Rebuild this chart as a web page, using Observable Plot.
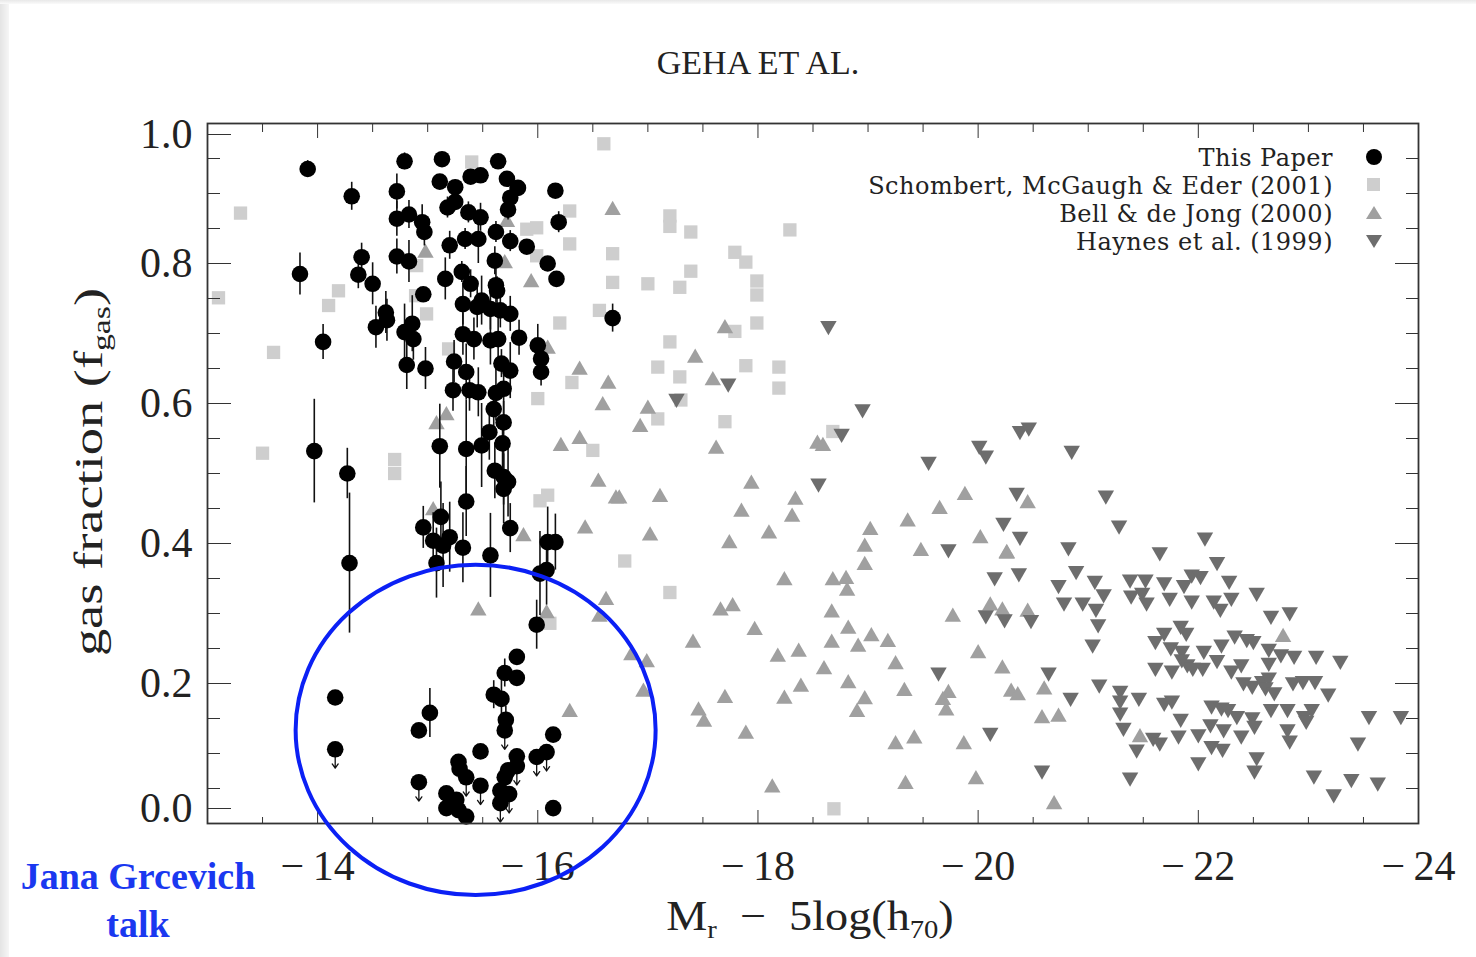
<!DOCTYPE html>
<html><head><meta charset="utf-8">
<script src="https://cdn.jsdelivr.net/npm/d3@7"></script>
<script src="https://cdn.jsdelivr.net/npm/@observablehq/plot@0.6"></script>
<style>
html,body{margin:0;padding:0;background:#fff;}
body{width:1476px;height:957px;overflow:hidden;position:relative;font-family:"Liberation Serif",serif;color:#222;}
#chart{position:absolute;left:0;top:0;}
.abs{position:absolute;white-space:nowrap;line-height:1;}
#edgeL{position:absolute;left:0;top:0;width:9px;height:957px;background:linear-gradient(to right,#e4e4e4,#f6f6f6);}
#edgeT{position:absolute;left:0;top:0;width:1476px;height:4px;background:linear-gradient(to bottom,#e8e8e8,#fafafa);}
#title{left:758px;top:46px;transform:translateX(-50%);font-size:34px;}
#ylab{left:92px;top:472px;transform:translate(-50%,-50%) rotate(-90deg) scale(1.36,1);font-size:40px;}
#xlab{left:810px;top:895px;transform:translateX(-50%) scale(1.1,1);font-size:42px;}
sub{font-size:62%;vertical-align:-0.3em;}
#legend{right:143px;top:144px;font-family:"DejaVu Serif",serif;font-size:24px;letter-spacing:0.5px;text-align:right;line-height:28px;color:#222;}
#note{left:138px;top:852px;transform:translateX(-50%);font-family:"Liberation Serif",serif;font-weight:bold;font-size:38px;color:#1a38f0;text-align:center;line-height:48px;}
</style></head><body>
<div id="chart"></div>
<div id="edgeL"></div><div id="edgeT"></div>
<div class="abs" id="title">GEHA ET AL.</div>
<div class="abs" id="ylab">gas fraction (f<sub>gas</sub>)</div>
<div class="abs" id="xlab">M<sub>r</sub> &nbsp;&minus;&nbsp; 5log(h<sub>70</sub>)</div>
<div class="abs" id="legend"></div>
<div class="abs" id="note">Jana Grcevich<br>talk</div>
<script>
// ---- Data: [absolute magnitude M_r - 5log h70, gas fraction, error] ----
const thisPaper = [
[-13.91,0.935,0.012],[-14.79,0.946,0.012],[-15.13,0.949,0.01],[-15.64,0.946,0.01],[-14.31,0.896,0.02],
[-14.72,0.903,0.025],[-15.11,0.917,0.01],[-15.25,0.909,0.01],[-15.39,0.924,0.01],[-15.48,0.926,0.01],
[-15.72,0.921,0.01],[-15.82,0.908,0.01],[-15.75,0.894,0.015],[-15.73,0.877,0.015],[-16.16,0.904,0.01],
[-16.19,0.859,0.015],[-15.18,0.880,0.015],[-15.25,0.888,0.01],[-15.37,0.873,0.015],[-15.48,0.866,0.02],
[-14.72,0.864,0.025],[-14.83,0.870,0.02],[-14.95,0.859,0.025],[-14.97,0.845,0.02],[-15.62,0.845,0.015],
[-15.75,0.832,0.015],[-15.90,0.824,0.01],[-15.20,0.826,0.02],[-15.34,0.835,0.015],[-15.46,0.835,0.035],
[-15.61,0.804,0.02],[-16.09,0.800,0.01],[-16.17,0.778,0.01],[-14.40,0.809,0.02],[-14.37,0.784,0.02],
[-14.50,0.771,0.03],[-14.72,0.810,0.025],[-14.83,0.803,0.03],[-15.16,0.778,0.03],[-15.31,0.788,0.015],
[-15.39,0.771,0.02],[-15.62,0.769,0.03],[-15.63,0.761,0.02],[-13.84,0.785,0.03],[-14.96,0.756,0.01],
[-15.32,0.742,0.03],[-15.49,0.747,0.035],[-15.57,0.735,0.03],[-15.66,0.733,0.025],[-15.75,0.728,0.025],
[-15.45,0.738,0.03],[-16.68,0.722,0.02],[-14.62,0.730,0.03],[-14.53,0.709,0.03],[-14.63,0.719,0.03],
[-14.86,0.714,0.04],[-14.79,0.702,0.04],[-14.87,0.692,0.03],[-15.32,0.699,0.03],[-15.42,0.692,0.03],
[-15.57,0.690,0.035],[-15.64,0.692,0.03],[-15.83,0.694,0.025],[-16.00,0.683,0.03],[-16.03,0.664,0.02],
[-14.05,0.688,0.025],[-14.81,0.655,0.035],[-14.98,0.650,0.03],[-15.24,0.660,0.03],[-15.35,0.645,0.04],
[-15.67,0.657,0.02],[-15.75,0.647,0.04],[-16.03,0.645,0.02],[-15.23,0.619,0.03],[-15.38,0.619,0.03],
[-15.46,0.616,0.035],[-15.62,0.615,0.04],[-15.69,0.621,0.04],[-15.60,0.592,0.03],[-15.69,0.573,0.03],
[-15.56,0.559,0.04],[-15.49,0.540,0.06],[-15.68,0.543,0.04],[-15.11,0.539,0.06],[-15.35,0.535,0.07],
[-13.97,0.532,0.074],[-14.27,0.500,0.036],[-15.61,0.504,0.04],[-15.69,0.495,0.04],[-15.73,0.488,0.05],
[-15.69,0.478,0.05],[-15.35,0.460,0.05],[-15.12,0.438,0.05],[-14.96,0.423,0.03],[-15.75,0.422,0.035],
[-15.05,0.404,0.04],[-15.14,0.397,0.06],[-15.20,0.409,0.05],[-15.32,0.394,0.05],[-15.57,0.383,0.06],
[-16.09,0.402,0.05],[-16.16,0.402,0.04],[-14.29,0.372,0.1],[-15.08,0.372,0.05],[-16.02,0.357,0.06],
[-16.08,0.362,0.05],[-15.99,0.284,0.035],[-15.81,0.238,0.01],[-15.70,0.215,0.02],[-15.81,0.208,0.01],
[-15.60,0.184,0.02],[-15.67,0.178,0.03],[-14.16,0.180,0],[-15.02,0.158,0.035],[-14.92,0.133,0],
[-15.71,0.148,0.02],[-15.48,0.103,0],[-16.14,0.127,0.01],[-15.81,0.096,0.01],[-15.73,0.076,0],
[-15.70,0.066,0],[-15.28,0.088,0],[-15.29,0.078,0],[-15.66,0.047,0],[-15.17,0.043,0],
[-15.26,0.034,0],[-15.17,0.022,0],[-15.28,0.019,0],[-15.35,0.010,0],[-16.14,0.022,0]
];
// upper limits (drawn with downward arrows)
const thisPaperLimits = [
[-15.70,0.133],[-14.16,0.106],[-16.08,0.102],[-15.99,0.095],[-15.35,0.066],[-15.48,0.054],
[-14.92,0.059],[-15.74,0.042],[-15.66,0.029],[-15.81,0.082]
];
const schombert = [
[-15.40,0.945],[-16.60,0.971],[-13.30,0.872],[-16.29,0.875],[-15.90,0.849],[-15.99,0.851],[-16.29,0.828],
[-16.68,0.814],[-16.68,0.773],[-15.99,0.811],[-14.19,0.761],[-14.10,0.740],[-13.10,0.751],[-14.90,0.797],
[-14.99,0.728],[-14.89,0.754],[-15.19,0.678],[-13.60,0.673],[-16.20,0.715],[-16.56,0.733],[-13.50,0.529],
[-14.70,0.520],[-14.70,0.500],[-16.31,0.630],[-16.00,0.607],[-16.50,0.533],[-16.02,0.461],[-16.09,0.469],
[-17.20,0.868],[-17.20,0.853],[-17.39,0.845],[-18.29,0.848],[-17.00,0.771],[-17.29,0.766],[-17.39,0.789],
[-17.79,0.816],[-17.89,0.802],[-17.99,0.775],[-17.99,0.755],[-17.79,0.703],[-17.99,0.715],[-17.20,0.688],
[-17.09,0.652],[-17.89,0.654],[-18.19,0.652],[-17.29,0.638],[-18.19,0.622],[-17.30,0.605],[-17.09,0.578],
[-17.70,0.574],[-18.68,0.560],[-16.79,0.375],[-17.20,0.330],[-16.11,0.286],[-18.69,0.021]
];
const bell = [
[-15.72,0.859],[-15.94,0.773],[-14.98,0.815],[-15.70,0.800],[-16.68,0.876],[-16.38,0.648],[-16.09,0.678],
[-16.64,0.628],[-16.59,0.597],[-15.17,0.583],[-15.08,0.570],[-16.21,0.539],[-16.38,0.549],[-16.55,0.488],
[-16.71,0.464],[-16.43,0.421],[-15.87,0.410],[-15.05,0.447],[-15.46,0.304],[-16.62,0.319],[-16.08,0.300],
[-16.56,0.295],[-16.85,0.240],[-16.99,0.230],[-16.96,0.188],[-16.29,0.159],[-17.70,0.707],[-17.43,0.665],
[-17.59,0.633],[-17.00,0.592],[-16.93,0.566],[-17.62,0.535],[-18.54,0.542],[-18.59,0.539],[-16.74,0.464],
[-17.11,0.466],[-17.94,0.485],[-17.85,0.445],[-18.34,0.462],[-18.31,0.438],[-17.02,0.411],[-17.74,0.400],
[-18.10,0.414],[-19.02,0.419],[-18.97,0.395],[-18.97,0.369],[-18.24,0.347],[-18.68,0.347],[-18.80,0.349],
[-18.81,0.332],[-18.67,0.301],[-17.66,0.304],[-17.77,0.310],[-19.36,0.431],[-19.65,0.449],[-19.88,0.469],
[-19.48,0.389],[-20.02,0.407],[-20.26,0.386],[-19.77,0.295],[-20.11,0.311],[-20.22,0.304],[-20.45,0.302],
[-17.97,0.276],[-17.41,0.258],[-18.18,0.238],[-18.37,0.245],[-18.67,0.258],[-18.82,0.278],[-19.03,0.267],
[-19.18,0.259],[-18.91,0.252],[-18.60,0.220],[-18.82,0.200],[-19.25,0.227],[-18.39,0.195],[-18.24,0.178],
[-17.70,0.179],[-17.46,0.161],[-17.51,0.145],[-17.89,0.128],[-18.97,0.177],[-18.90,0.159],[-19.33,0.189],
[-19.25,0.113],[-19.42,0.121],[-18.13,0.051],[-19.34,0.056],[-20.00,0.243],[-19.73,0.186],[-19.68,0.176],
[-19.71,0.161],[-20.22,0.221],[-20.30,0.188],[-20.36,0.183],[-19.87,0.113],[-19.98,0.063],[-20.60,0.191],
[-20.58,0.150],[-20.69,0.027],[-20.45,0.457],[-20.26,0.385],[-20.73,0.152],[-22.77,0.266],[-21.47,0.123]
];
const haynes = [
[-18.64,0.711],[-17.73,0.629],[-17.26,0.607],[-18.95,0.592],[-18.76,0.557],[-19.55,0.517],[-20.01,0.540],
[-20.07,0.526],[-20.38,0.561],[-20.46,0.566],[-18.55,0.486],[-20.35,0.473],[-20.23,0.430],[-20.38,0.410],
[-19.73,0.392],[-20.15,0.352],[-20.37,0.358],[-20.07,0.298],[-20.24,0.292],[-20.48,0.291],[-19.64,0.216],
[-20.11,0.130],[-20.64,0.216],[-20.58,0.076],[-20.85,0.533],[-21.16,0.469],[-21.28,0.426],[-20.82,0.395],
[-22.06,0.409],[-21.65,0.388],[-22.17,0.374],[-20.89,0.361],[-20.73,0.341],[-21.06,0.347],[-21.38,0.349],
[-21.52,0.349],[-21.69,0.345],[-21.87,0.341],[-21.94,0.356],[-22.02,0.354],[-22.28,0.347],[-22.53,0.330],
[-21.14,0.328],[-21.39,0.326],[-21.49,0.330],[-21.53,0.316],[-21.74,0.323],[-21.94,0.319],[-22.30,0.323],
[-22.14,0.319],[-22.20,0.307],[-20.78,0.316],[-20.95,0.316],[-21.07,0.307],[-22.66,0.297],[-22.83,0.302],
[-21.09,0.285],[-21.04,0.256],[-20.84,0.180],[-21.10,0.199],[-21.29,0.190],[-21.29,0.176],[-21.29,0.159],
[-21.32,0.137],[-21.46,0.180],[-21.44,0.106],[-21.59,0.123],[-21.65,0.116],[-21.38,0.066],[-21.61,0.261],
[-21.69,0.273],[-21.75,0.252],[-21.84,0.283],[-21.89,0.273],[-21.85,0.247],[-21.85,0.235],[-21.90,0.228],
[-21.95,0.223],[-21.61,0.223],[-21.76,0.219],[-22.05,0.247],[-22.04,0.223],[-22.17,0.234],[-22.21,0.256],
[-22.33,0.269],[-22.44,0.264],[-22.50,0.261],[-22.30,0.219],[-22.39,0.228],[-22.41,0.202],[-22.49,0.197],
[-22.58,0.204],[-22.64,0.209],[-22.61,0.195],[-22.69,0.188],[-22.64,0.250],[-22.75,0.242],[-22.64,0.230],
[-22.87,0.240],[-23.07,0.240],[-23.29,0.233],[-22.86,0.202],[-22.95,0.204],[-23.06,0.204],[-23.18,0.186],
[-21.69,0.173],[-21.76,0.176],[-21.84,0.150],[-21.82,0.126],[-22.00,0.128],[-22.12,0.169],[-22.21,0.166],
[-22.27,0.164],[-22.11,0.142],[-22.23,0.135],[-22.12,0.111],[-22.22,0.107],[-22.35,0.154],[-22.49,0.152],
[-22.51,0.140],[-22.39,0.126],[-22.00,0.088],[-22.53,0.095],[-22.51,0.076],[-22.66,0.164],[-22.81,0.164],
[-22.81,0.135],[-22.83,0.119],[-22.96,0.154],[-23.03,0.164],[-22.98,0.147],[-23.55,0.154],[-23.84,0.154],
[-23.45,0.116],[-23.05,0.069],[-23.23,0.042],[-23.39,0.064],[-23.63,0.059]
];
const seriesNames = ["This Paper","Schombert, McGaugh & Eder (2001)","Bell & de Jong (2000)","Haynes et al. (1999)"];
const xMajorTicks = [-14,-16,-18,-20,-22,-24];
const xMinorTicks = [-13,-13.5,-14.5,-15,-15.5,-16.5,-17,-17.5,-18.5,-19,-19.5,-20.5,-21,-21.5,-22.5,-23,-23.5];
const yInnerTicks = [0.2,0.4,0.6,0.8];
const yBottomTick = [0];
const yTopTick = [1.0];
const yMajorTicks = [0,0.2,0.4,0.6,0.8,1.0];
const yMinorTicks = [0.05,0.1,0.15,0.25,0.3,0.35,0.45,0.5,0.55,0.65,0.7,0.75,0.85,0.9,0.95];
// annotation ellipse (data units): center, radii
const ringCenter = [-15.44, 0.133];
const ringRadii = [1.635, 0.236];

const colors = {paper:"#000", schombert:"#cecece", bell:"#a0a0a0", haynes:"#6d6d6d", ring:"#0b20f5"};
const triangleDown = {draw(ctx, size){const h=Math.sqrt(size/(Math.sqrt(3)*3)); ctx.moveTo(0,2*h); ctx.lineTo(Math.sqrt(3)*h,-h); ctx.lineTo(-Math.sqrt(3)*h,-h); ctx.closePath();}};
const X = d => d[0], Y = d => d[1];
const none = () => "";
const fmtY = d3.format(".1f");
const axisStyle = {stroke:"#333", fill:"#222", label:null, fontFamily:"Liberation Serif"};
const yLabelStyle = {...axisStyle, anchor:"left", tickSize:-24, tickPadding:24+15, fontSize:42, tickFormat:fmtY};

const plot = Plot.plot({
  width:1476, height:957,
  marginTop:123, marginBottom:134, marginLeft:207, marginRight:58,
  x:{domain:[-13,-24]}, y:{domain:[0,1]},
  style:{background:"transparent", fontFamily:"Liberation Serif", overflow:"visible"},
  marks:[
    Plot.dot(schombert, {x:X, y:Y, symbol:"square", r:7.5, fill:colors.schombert}),
    Plot.dot(bell, {x:X, y:Y, symbol:"triangle", r:6.1, fill:colors.bell}),
    Plot.dot(haynes, {x:X, y:Y, symbol:triangleDown, r:6.1, fill:colors.haynes}),
    Plot.ruleX(thisPaper.filter(d => d[2] > 0), {x:X, y1:d => d[1]-d[2], y2:d => d[1]+d[2], stroke:"#111", strokeWidth:1.6}),
    Plot.arrow(thisPaperLimits, {x1:X, x2:X, y1:Y, y2:d => d[1]-0.027, stroke:"#111", strokeWidth:1.3, headLength:6, headAngle:70}),
    Plot.dot(thisPaper, {x:X, y:Y, r:8.3, fill:colors.paper}),
    Plot.dot(thisPaperLimits, {x:X, y:Y, r:8.3, fill:colors.paper}),
    Plot.axisY({...yLabelStyle, ticks:yInnerTicks}),
    Plot.axisY({...yLabelStyle, ticks:yTopTick, dy:11}),
    Plot.axisY({...yLabelStyle, ticks:yBottomTick, dy:-15}),
    Plot.axisY({...axisStyle, anchor:"left", ticks:yMinorTicks, tickSize:-13, tickFormat:none}),
    Plot.axisY({...axisStyle, anchor:"right", ticks:yMajorTicks, tickSize:-24, tickFormat:none}),
    Plot.axisY({...axisStyle, anchor:"right", ticks:yMinorTicks, tickSize:-13, tickFormat:none}),
    Plot.axisX({...axisStyle, anchor:"bottom", ticks:xMajorTicks, tickSize:-13, tickPadding:13+27, fontSize:42, tickFormat:d => "\u2212\u2009" + Math.abs(d)}),
    Plot.axisX({...axisStyle, anchor:"bottom", ticks:xMinorTicks, tickSize:-6, tickFormat:none}),
    Plot.axisX({...axisStyle, anchor:"top", ticks:xMajorTicks, tickSize:-14, tickFormat:none}),
    Plot.axisX({...axisStyle, anchor:"top", ticks:xMinorTicks, tickSize:-8, tickFormat:none}),
    Plot.frame({stroke:"#333", strokeWidth:1.8})
  ]
});
document.getElementById("chart").appendChild(plot);

// annotation ring drawn through the plot's scales
const sx = plot.scale("x"), sy = plot.scale("y");
const cx = sx.apply(ringCenter[0]), cy = sy.apply(ringCenter[1]);
const rx = Math.abs(sx.apply(ringCenter[0] + ringRadii[0]) - cx);
const ry = Math.abs(sy.apply(ringCenter[1] + ringRadii[1]) - cy);
d3.select(plot).append("ellipse").attr("cx", cx).attr("cy", cy).attr("rx", rx).attr("ry", ry)
  .attr("fill", "none").attr("stroke", colors.ring).attr("stroke-width", 4);

// legend
const legendSymbols = [
  `<circle cx="9" cy="9" r="8" fill="${colors.paper}"/>`,
  `<rect x="2" y="2" width="13" height="13" fill="${colors.schombert}"/>`,
  `<path d="M9,2 L17,15 L1,15 Z" fill="${colors.bell}"/>`,
  `<path d="M1,3 L17,3 L9,16 Z" fill="${colors.haynes}"/>`
];
const leg = document.getElementById("legend");
leg.innerHTML = seriesNames.map((n,i) =>
  `<div style="height:28px;position:relative">${n.replace(/&/g,"&amp;")}<svg width="18" height="18" style="position:absolute;right:-50px;top:4px">${legendSymbols[i]}</svg></div>`).join("");
</script>
</body></html>
